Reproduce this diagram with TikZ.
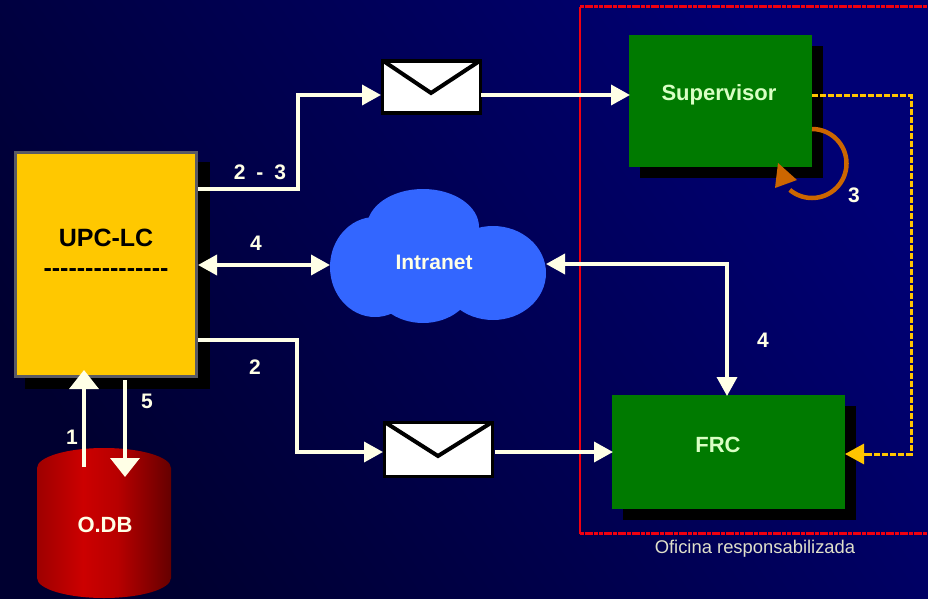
\documentclass[tikz,border=0pt]{standalone}
\usepackage{fontspec}
\setmainfont{Liberation Sans}
\usetikzlibrary{arrows.meta,calc}
\definecolor{cream}{HTML}{FFFFE6}
\definecolor{boxgreen}{HTML}{007A00}
\definecolor{amber}{HTML}{FFC400}
\definecolor{loopor}{HTML}{CC6600}
\definecolor{cloudblue}{HTML}{3366FF}
\definecolor{framered}{HTML}{F00010}
\definecolor{bgdark}{HTML}{000030}
\definecolor{bglight}{HTML}{000074}
\definecolor{upcfill}{HTML}{FFC800}
\definecolor{upcedge}{HTML}{5A5A64}
\pgfdeclarehorizontalshading{dbshade}{100bp}{
  color(0bp)=(red!62!black);
  color(25bp)=(red!62!black);
  color(42bp)=(red!80!black);
  color(55bp)=(red!72!black);
  color(78bp)=(red!35!black);
  color(100bp)=(red!20!black)}
\tikzset{
  x=1pt,y=-1pt,
  gbox/.style={fill=boxgreen,draw=none,inner sep=0,text=cream!85!green,font=\bfseries\fontsize{22}{24}\selectfont},
  envbox/.style={fill=white,draw=black,line width=3.5pt,inner sep=0},
  flap/.style={draw=black,line width=4pt,line join=miter},
  wire/.style={draw=cream,line width=3.6pt,line join=miter},
  head/.style={-{Triangle[length=19pt,width=20pt,fill=cream]}},
  headtwo/.style={{Triangle[length=19pt,width=20pt,fill=cream]}-{Triangle[length=19pt,width=20pt,fill=cream]}},
  bighead/.style={-{Triangle[length=19pt,width=29pt,fill=cream]}},
  numlabel/.style={text=cream,font=\bfseries\fontsize{21}{24}\selectfont,inner sep=0},
  puff/.style={fill=cloudblue,draw=none},
}
\begin{document}
\begin{tikzpicture}
\useasboundingbox (0,0) rectangle (928,599);
% background
\shade[bottom color=bgdark,top color=bglight,shading angle=-55] (0,0) rectangle (928,599);

% red frame
\draw[framered,line width=2.6pt] (580,534) -- (580,7);
\draw[framered,line width=3pt,dash pattern=on 4pt off 0.7pt] (580,7) -- (932,7);
\draw[framered,line width=3pt,dash pattern=on 4pt off 0.7pt] (580,533) -- (932,533);
\node[text=cream!88!black,font=\fontsize{18.4}{20}\selectfont,inner sep=0] (office) at (755,549) {Oficina responsabilizada};

% shadows
\fill[black] (25,162) rectangle (210,389);
\fill[black] (640,46) rectangle (823,178);
\fill[black] (623,406) rectangle (856,520);

% boxes
\node[fill=upcfill,draw=upcedge,line width=3.5pt,inner sep=0,minimum width=181pt,minimum height=224pt] (upc) at (106,264.5) {};
\node[inner sep=0,font=\bfseries\fontsize{25}{28}\selectfont,text=black] (upct) at (106,238) {UPC-LC};
\node[inner sep=0,font=\bfseries\fontsize{25}{28}\selectfont,text=black] (upcd) at (106,273) {-{}-{}-{}-{}-{}-{}-{}-{}-{}-{}-{}-{}-{}-{}-};
\node[gbox,minimum width=183pt,minimum height=132pt] (sup) at (720.5,101) {};
\node[gbox] (supt) at (719,95) {Supervisor};
\node[gbox,minimum width=233pt,minimum height=114pt] (frc) at (728.5,452) {};
\node[gbox] (frct) at (718,445) {FRC};

% database
\path[shading=dbshade] (37,468) arc[x radius=67,y radius=20,start angle=180,end angle=360] -- (171,578) arc[x radius=67,y radius=20,start angle=0,end angle=180] -- cycle;
\node[inner sep=0,text=cream,font=\bfseries\fontsize{22}{25}\selectfont] (db) at (105,525) {O.DB};
\coordinate (dbA) at (84,467);
\coordinate (dbB) at (125,477);
\coordinate (upcS1) at (84,370);
\coordinate (upcS2) at (125,380);

% cloud
\fill[puff] (423,227) ellipse[x radius=56,y radius=38];
\fill[puff] (375,267) ellipse[x radius=45,y radius=50];
\fill[puff] (493,273) ellipse[x radius=53,y radius=47];
\fill[puff] (423,283) ellipse[x radius=50,y radius=40];
\fill[puff] (430,262) ellipse[x radius=70,y radius=40];
\node[inner sep=0,minimum width=216pt,minimum height=10pt] (cloud) at (438,265) {};
\node[inner sep=0,text=cream,font=\bfseries\fontsize{21}{24}\selectfont] (cloudt) at (434,262) {Intranet};

% envelopes
\node[envbox,minimum width=98pt,minimum height=52pt] (env1) at (431.5,87) {};
\draw[flap] ($(env1.north west)+(3,2)$) -- (431,93) -- ($(env1.north east)+(-3,2)$);
\node[envbox,minimum width=108pt,minimum height=54pt] (env2) at (438.5,449.5) {};
\draw[flap] ($(env2.north west)+(3,2)$) -- (438,456) -- ($(env2.north east)+(-3,2)$);

% connectors
\coordinate (upcA) at (198,189);
\coordinate (upcC) at (198,340);
\coordinate (bendA) at (298,189);
\coordinate (bendC) at (297,340);
\coordinate (env1W) at (381,95);
\coordinate (env1E) at (481,95);
\coordinate (supW) at (630,95);
\coordinate (env2W) at (383,452);
\coordinate (env2E) at (495,452);
\coordinate (frcW) at (613,452);
\coordinate (frcN) at (727,396);
\coordinate (cloudE) at (546,264);
\coordinate (cloudW) at (330,265);
\coordinate (upcE) at (198,265);
\coordinate (bendI) at (727,264);
\draw[wire,head] (upcA) -- (bendA) -- (bendA |- env1W) -- (env1W);
\draw[wire,head] (env1E) -- (supW);
\draw[wire,headtwo] (upcE) -- (cloudW);
\draw[wire,head] (upcC) -- (bendC) -- (bendC |- env2W) -- (env2W);
\draw[wire,head] (env2E) -- (frcW);
\draw[wire,headtwo] (cloudE) -- (bendI) -- (frcN);
\draw[wire,bighead] (dbA) -- (upcS1);
\draw[wire,bighead] (upcS2) -- (dbB);

% dashed
\coordinate (supE) at (812,96);
\coordinate (frcE) at (845,454);
\draw[amber,line width=3pt,dash pattern=on 6pt off 2pt] (supE) -- (911,96) -- (911,454) -- (863,454);
\draw[amber,line width=3pt,-{Triangle[length=19pt,width=20pt,fill=amber]}] (866,454) -- (frcE);

% self loop
\coordinate (supLoopS) at (812,129);
\draw[loopor,line width=4.5pt] (supLoopS) arc[radius=34.5,start angle=-90,end angle=130];
\fill[loopor] (778,163) -- (775,188) -- (797,180) -- cycle;

% labels
\node[numlabel] (l23) at (260,172) {2\hspace{5pt} - \hspace{5pt}3};
\node[numlabel] (l4a) at (256,243) {4};
\node[numlabel] (l2) at (255,367) {2};
\node[numlabel] (l5) at (147,401) {5};
\node[numlabel] (l1) at (72,437) {1};
\node[numlabel] (l3) at (854,195) {3};
\node[numlabel] (l4b) at (763,340) {4};
\end{tikzpicture}
\end{document}
